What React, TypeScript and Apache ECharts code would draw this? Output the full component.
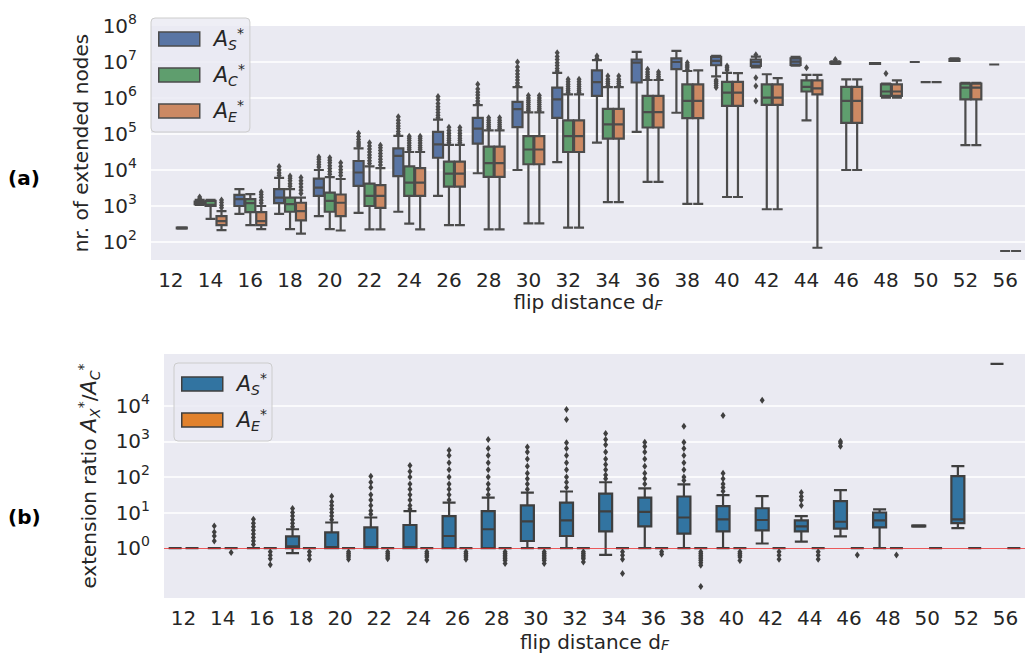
import React, { useEffect, useRef } from 'react';
import * as echarts from 'echarts';

// flip distance categories
const categories = ['12','14','16','18','20','22','24','26','28','30','32','34','36','38','40','42','44','46','48','50','52','56'];

// ---------- Panel (a): nr. of extended nodes, log10 of [lower whisker, Q1, median, Q3, upper whisker]
const aS_box = [
  null,[3.03,3.05,3.08,3.12,3.17],[2.78,3.0,3.19,3.31,3.47],[2.78,3.08,3.23,3.47,3.78],
  [2.72,3.28,3.51,3.76,4.0],[2.81,3.56,3.93,4.25,4.6],[2.84,3.83,4.39,4.6,4.95],[3.28,4.34,4.71,5.06,5.4],
  [3.91,4.73,5.15,5.45,5.8],[4.0,5.19,5.69,5.89,6.3],[4.22,5.45,5.96,6.29,6.7],[4.76,6.06,6.44,6.77,7.05],
  [5.06,6.43,6.98,7.07,7.28],[5.59,6.8,7.0,7.1,7.31],[6.6,6.91,7.03,7.14,7.17],[6.85,6.89,7.0,7.07,7.15],
  [6.9,6.92,7.01,7.1,7.14],[6.95,6.96,6.98,7.0,7.02],[6.95,6.95,6.96,6.97,6.97],[7.0,7.0,7.0,7.0,7.0],
  [7.03,7.03,7.05,7.08,7.1],[6.93,6.93,6.93,6.93,6.93]
];
const aC_box = [
  null,[2.64,3.0,3.03,3.14,3.17],[2.47,2.83,3.08,3.19,3.33],[2.36,2.84,3.05,3.23,3.47],
  [2.36,2.84,3.14,3.37,3.8],[2.35,3.0,3.28,3.62,4.1],[2.51,3.28,3.65,4.1,4.5],[2.47,3.54,3.9,4.23,4.7],
  [2.35,3.81,4.19,4.65,5.1],[2.52,4.16,4.57,4.94,5.6],[2.4,4.5,4.94,5.38,6.1],[3.11,4.87,5.27,5.7,6.3],
  [3.67,5.18,5.61,6.06,6.5],[3.06,5.44,5.92,6.38,6.75],[3.25,5.78,6.15,6.45,6.7],[2.91,5.81,6.01,6.38,6.66],
  [5.38,6.18,6.31,6.49,6.64],[4.0,5.31,5.92,6.31,6.52],[6.01,6.06,6.18,6.38,6.4],[6.44,6.44,6.44,6.44,6.44],
  [4.69,5.96,6.29,6.4,6.42],[1.75,1.75,1.75,1.75,1.75]
];
const aE_box = [
  [2.37,2.38,2.39,2.4,2.41],[2.33,2.47,2.58,2.72,2.86],[2.36,2.47,2.58,2.83,3.0],[2.23,2.6,2.86,3.09,3.23],
  [2.32,2.72,3.09,3.32,3.75],[2.35,2.95,3.28,3.58,4.05],[2.35,3.28,3.65,4.05,4.5],[2.47,3.54,3.9,4.23,4.7],
  [2.35,3.81,4.19,4.65,5.1],[2.52,4.16,4.57,4.94,5.6],[2.4,4.5,4.94,5.38,6.1],[3.11,4.87,5.27,5.7,6.3],
  [3.67,5.18,5.61,6.06,6.5],[3.06,5.44,5.92,6.38,6.77],[3.25,5.78,6.15,6.45,6.69],[2.91,5.81,6.01,6.38,6.55],
  [1.84,6.1,6.27,6.49,6.64],[4.0,5.31,5.92,6.31,6.52],[6.01,6.06,6.18,6.38,6.49],[6.44,6.44,6.44,6.44,6.44],
  [4.69,5.96,6.29,6.4,6.42],[1.75,1.75,1.75,1.75,1.75]
];
// outliers (log10)
const aS_out = [
  [],[3.2,3.25],[],[3.85,3.92,4.0,4.1],[4.08,4.15,4.22,4.3,4.36],[4.67,4.72,4.78,4.85,4.93,5.02],
  [5.0,5.07,5.15,5.22,5.3,5.38,5.48],[5.45,5.52,5.6,5.68,5.76,5.85,5.95,6.04],[5.85,5.92,6.0,6.08,6.16,6.25,6.38],
  [6.35,6.42,6.5,6.58,6.67,6.76,6.86,7.0],[6.75,6.82,6.9,6.98,7.07,7.15,7.26],[7.1,7.17],[],[],
  [6.5,6.45,6.4,6.35,6.29],[7.2,6.56,6.33,5.92],[],[7.07],[],[],[],[]
];
const aC_out = [
  [],[],[],[3.55,3.62,3.7,3.77,3.83],[3.88,3.96,4.04,4.12,4.2,4.27,4.34],[4.18,4.26,4.34,4.42,4.5,4.58,4.67,4.76],
  [4.56,4.62,4.68,4.75,4.82,4.88,4.94],[4.76,4.82,4.88,4.95,5.02,5.1,5.19],[5.15,5.2,5.26,5.32,5.38,5.45],
  [5.65,5.7,5.76,5.82,5.88,5.94,6.0,6.07],[6.15,6.2,6.26,6.32,6.38,6.45,6.52],[6.35,6.4,6.46,6.52,6.61],
  [6.55,6.6,6.66,6.72,6.8],[6.8,6.86,6.92,6.98],[6.78,6.84,6.89],[],[6.84],[],[6.68],[],[],[]
];
const aE_out = [
  [],[2.95,3.02,3.1,3.17],[3.08,3.16,3.24,3.32,3.39],[3.35,3.44,3.53,3.62,3.7,3.79],[3.85,3.93,4.01,4.1,4.2],
  [4.14,4.22,4.3,4.38,4.46,4.54,4.62,4.69],[4.56,4.62,4.68,4.75,4.82,4.88,4.94],[4.76,4.82,4.88,4.95,5.02,5.1,5.18],
  [5.15,5.2,5.26,5.32,5.38,5.45],[5.65,5.7,5.76,5.82,5.88,5.94,6.0,6.07],[6.15,6.2,6.26,6.32,6.38,6.45,6.52],
  [6.35,6.4,6.46,6.52,6.61],[6.55,6.6,6.66,6.72],[],[],[],[],[],[],[],[],[]
];

// ---------- Panel (b): extension ratio, log10 of [lower whisker, Q1, median, Q3, upper whisker]
const bS_box = [
  [0,0,0,0,0],[0,0,0,0,0],[0,0,0,0,0],[-0.14,0,0.05,0.33,0.53],[0,0,0.03,0.44,0.72],[0,0,0.03,0.58,0.86],
  [0,0,0.03,0.65,1.04],[0,0,0.34,0.9,1.28],[0,0,0.53,1.04,1.42],[0,0.2,0.75,1.2,1.56],[0,0.34,0.78,1.28,1.59],
  [-0.19,0.47,1.03,1.53,1.85],[0,0.61,1.02,1.42,1.68],[0,0.41,0.86,1.45,1.79],[0,0.47,0.81,1.18,1.49],
  [0.13,0.5,0.79,1.12,1.46],[0.18,0.47,0.61,0.78,0.9],[0.33,0.55,0.74,1.32,1.63],[0,0.58,0.78,1.0,1.09],
  [0.6,0.61,0.62,0.63,0.64],[0.56,0.7,0.81,2.02,2.3],[5.17,5.17,5.17,5.17,5.17]
];
const bE_box = categories.map(() => [0,0,0,0,0]);
const bS_out = [
  [],[0.2,0.34,0.45,0.62],[0.1,0.2,0.3,0.4,0.5,0.6,0.7,0.81],[0.6,0.7,0.8,0.9,1.0,1.11],
  [0.8,0.9,1.0,1.1,1.2,1.3,1.46],[0.95,1.05,1.2,1.35,1.5,1.7,1.85,2.02],[1.1,1.2,1.35,1.5,1.65,1.8,2.0,2.15,2.32],
  [1.35,1.5,1.65,1.8,2.0,2.2,2.4,2.6,2.75],[1.5,1.65,1.8,2.0,2.2,2.4,2.6,2.8,3.05],[1.65,1.8,1.95,2.1,2.3,2.5,2.7,2.84],
  [1.7,1.85,2.0,2.2,2.4,2.6,2.8,2.96,3.61,3.89],[1.95,2.05,2.2,2.35,2.5,2.7,2.9,3.05,3.22],
  [1.8,1.95,2.1,2.3,2.5,2.7,2.85,2.97],[1.9,2.0,2.2,2.4,2.6,2.8,2.97,3.42],[1.6,1.7,1.8,1.95,2.1,3.72],
  [4.15],[1.2,1.35,1.45,1.56],[2.86,2.95,3.0],[],[],[],[]
];
const bE_out = [
  [],[-0.12],[-0.1,-0.2,-0.3,-0.47],[-0.1,-0.2,-0.31],[-0.1,-0.15,-0.2,-0.25,-0.31],[-0.1,-0.15,-0.2,-0.25,-0.3],
  [-0.1,-0.15,-0.2,-0.25,-0.33],[-0.1,-0.15,-0.2,-0.25,-0.31],[-0.1,-0.15,-0.2,-0.25,-0.3,-0.35,-0.43],
  [-0.1,-0.15,-0.2,-0.25,-0.3,-0.35,-0.43],[-0.1,-0.15,-0.2,-0.25,-0.3,-0.39],[-0.1,-0.2,-0.31,-0.71],
  [-0.1,-0.17],[-0.1,-0.15,-0.2,-0.25,-0.3,-0.35,-0.41,-0.48,-1.08],[-0.1,-0.15,-0.2,-0.25,-0.35],
  [-0.1,-0.2,-0.31],[-0.1,-0.2,-0.31],[-0.19],[-0.19],[],[],[]
];

// gridline exponents
const aGridExp = [2,3,4,5,6,7];
const bGridExp = [1,2,3,4];

const FONT = 'DejaVu Sans';
const TXT = '#262626';
const BG = '#EAEAF2';
const COLORS: Record<string, string> = { aS: '#5975A4', aC: '#5F9E6E', aE: '#CC8963', bS: '#3274A1', bE: '#E1812C' };

const pow10 = (e: number) => Math.pow(10, e);
const boxData = (rows: (number[] | null)[]) => rows.map(r => (r ? r.map(pow10) : ['-', '-', '-', '-', '-']));
const outData = (rows: number[][], offset: number) => {
  const pts: number[][] = [];
  rows.forEach((list, i) => list.forEach(e => pts.push([i + offset, pow10(e)])));
  return pts;
};
// same side-by-side offsets as echarts' boxplot layout (in category units)
const boxOffsets = (n: number, bandWidth: number) => {
  const avail = bandWidth * 0.8 - 2;
  const gap = (avail / n) * 0.3;
  const w = (avail - gap * (n - 1)) / n;
  const res: number[] = [];
  let base = w / 2 - avail / 2;
  for (let i = 0; i < n; i++) { res.push(base / bandWidth); base += gap + w; }
  return res;
};

const gA = { left: 151, top: 26, width: 880, height: 234 };
const gB = { left: 164, top: 354, width: 869, height: 244 };

const math = {
  i: { fontSize: 21, fontStyle: 'italic', fontFamily: FONT, color: TXT, lineHeight: 26 },
  li: { fontSize: 21, fontStyle: 'italic', fontFamily: FONT, color: TXT, lineHeight: 26, padding: [0, 0, 0, 9] },
  sup: { fontSize: 14, verticalAlign: 'top', fontFamily: FONT, color: TXT, lineHeight: 12 },
  sub: { fontSize: 14, fontStyle: 'italic', verticalAlign: 'bottom', fontFamily: FONT, color: TXT, lineHeight: 14 },
};
const legendNames: Record<string, string> = {
  aS: '{li|A}{sub|S}{sup|*}', aC: '{li|A}{sub|C}{sup|*}', aE: '{li|A}{sub|E}{sup|*}',
  bS: '{li|A}{sub|S}{sup|*}', bE: '{li|A}{sub|E}{sup|*}',
};

const powLabel = (maxE: number, minE: number) => (v: number) => {
  const e = Math.log10(v);
  const r = Math.round(e);
  if (Math.abs(e - r) > 0.01 || r < minE || r > maxE) return '';
  return '10{sup|' + r + '}';
};

export default function App() {
  const ref = useRef<HTMLDivElement>(null);
  useEffect(() => {
    if (!ref.current) return;
    const chart = echarts.init(ref.current, undefined, { renderer: 'svg' });
    const offA = boxOffsets(3, gA.width / categories.length);
    const offB = boxOffsets(2, gB.width / categories.length);
    const lineA = '#4C4C4C';
    const lineB = '#3F3F3F';

    const box = (name: string, rows: (number[] | null)[], edge: string, xi: number, yi: number, w: number) => ({
      type: 'boxplot', name, data: boxData(rows), xAxisIndex: xi, yAxisIndex: yi, boxWidth: [w, w], z: 3,
      itemStyle: { color: COLORS[name], borderColor: edge, borderWidth: 2.2 },
      emphasis: { disabled: true }, silent: true,
    });
    const outl = (rows: number[][], off: number, edge: string, xi: number, yi: number) => ({
      type: 'scatter', data: outData(rows, off), xAxisIndex: xi, yAxisIndex: yi, z: 4, silent: true,
      symbol: 'diamond', symbolSize: [5, 7], itemStyle: { color: edge, opacity: 1 },
    });
    const gridLines = (exps: number[], xi: number, yi: number) => ({
      type: 'line', data: [], xAxisIndex: xi, yAxisIndex: yi, z: 1, silent: true,
      markLine: {
        silent: true, z: 1, symbol: ['none', 'none'], label: { show: false }, emphasis: { disabled: true },
        lineStyle: { color: '#ffffff', width: 1.5, type: 'solid', opacity: 1 },
        data: exps.map(e => ({ yAxis: pow10(e) })),
      },
    });

    const yLabel = (maxE: number, minE: number) => ({
      fontSize: 20, fontFamily: FONT, color: TXT, margin: 14, lineHeight: 28,
      formatter: powLabel(maxE, minE),
      rich: { sup: { fontSize: 14, verticalAlign: 'top', lineHeight: 16, fontFamily: FONT, color: TXT } },
    });
    const xName = {
      fontSize: 20, fontFamily: FONT, color: TXT,
      rich: { sub: { fontSize: 14, fontStyle: 'italic', verticalAlign: 'bottom', lineHeight: 14, fontFamily: FONT, color: TXT } },
    };
    const catAxis = (gi: number, gap: number) => ({
      type: 'category', gridIndex: gi, data: categories, boundaryGap: true,
      axisLine: { show: false }, axisTick: { show: false }, splitLine: { show: false },
      axisLabel: { interval: 0, fontSize: 20, fontFamily: FONT, color: TXT, margin: 10 },
      name: 'flip distance d{sub|F}', nameLocation: 'middle', nameGap: gap, nameTextStyle: xName,
    });
    const valAxis = (gi: number) => ({ type: 'value', gridIndex: gi, min: -0.5, max: categories.length - 0.5, show: false });

    const legendItems = (names: string[], edge: string) =>
      names.map(n => ({ name: n, itemStyle: { color: COLORS[n], borderColor: edge, borderWidth: 1.5 } }));
    const legendBase = {
      orient: 'vertical', icon: 'rect', itemWidth: 41, itemHeight: 14, itemGap: 10,
      backgroundColor: 'rgba(234,234,242,0.8)', borderColor: '#cccccc', borderWidth: 1, borderRadius: 4,
      selectedMode: false,
      formatter: (n: string) => legendNames[n],
      textStyle: { fontSize: 20, fontFamily: FONT, color: TXT, rich: math },
    };

    chart.setOption({
      animation: false,
      backgroundColor: '#ffffff',
      grid: [
        { ...gA, show: true, backgroundColor: BG, borderWidth: 0, containLabel: false },
        { ...gB, show: true, backgroundColor: BG, borderWidth: 0, containLabel: false },
      ],
      xAxis: [catAxis(0, 32), valAxis(0), catAxis(1, 34), valAxis(1)],
      yAxis: [
        {
          type: 'log', gridIndex: 0, logBase: 10, min: pow10(1.5), max: pow10(8),
          axisLine: { show: false }, axisTick: { show: false }, splitLine: { show: false },
          axisLabel: yLabel(8, 2),
          name: 'nr. of extended nodes', nameLocation: 'middle', nameGap: 60,
          nameTextStyle: { fontSize: 20, fontFamily: FONT, color: TXT },
        },
        {
          type: 'log', gridIndex: 1, logBase: 10, min: pow10(-1.4), max: pow10(5.45),
          axisLine: { show: false }, axisTick: { show: false }, splitLine: { show: false },
          axisLabel: yLabel(4, 0),
          name: 'extension ratio {i|A}{sub|X}{sup|*}/{i|A}{sub|C}{sup|*}', nameLocation: 'middle', nameGap: 62,
          nameTextStyle: { fontSize: 20, fontFamily: FONT, color: TXT, rich: math },
        },
      ],
      legend: [
        { ...legendBase, left: gA.left, top: 18, padding: [8, 5, 8, 7], data: legendItems(['aS', 'aC', 'aE'], lineA) },
        { ...legendBase, left: 174, top: 363, padding: [8, 5, 8, 7], data: legendItems(['bS', 'bE'], lineB) },
      ],
      graphic: [
        { type: 'text', left: 8, top: 168, style: { text: '(a)', fontSize: 20, fontWeight: 'bold', fontFamily: FONT, fill: '#000' } },
        { type: 'text', left: 8, top: 507, style: { text: '(b)', fontSize: 20, fontWeight: 'bold', fontFamily: FONT, fill: '#000' } },
      ],
      series: [
        gridLines(aGridExp, 0, 0),
        gridLines(bGridExp, 2, 1),
        box('aS', aS_box, lineA, 0, 0, 10),
        box('aC', aC_box, lineA, 0, 0, 10),
        box('aE', aE_box, lineA, 0, 0, 10),
        outl(aS_out, offA[0], lineA, 1, 0),
        outl(aC_out, offA[1], lineA, 1, 0),
        outl(aE_out, offA[2], lineA, 1, 0),
        box('bS', bS_box, lineB, 2, 1, 13),
        box('bE', bE_box, lineB, 2, 1, 13),
        outl(bS_out, offB[0], lineB, 3, 1),
        outl(bE_out, offB[1], lineB, 3, 1),
        {
          type: 'line', data: [], xAxisIndex: 2, yAxisIndex: 1, z: 6, silent: true,
          markLine: {
            silent: true, z: 6, symbol: ['none', 'none'], label: { show: false }, emphasis: { disabled: true },
            lineStyle: { color: 'rgba(235,40,40,0.75)', width: 1.2, type: 'solid' },
            data: [{ yAxis: 1 }],
          },
        },
      ],
    });
    return () => chart.dispose();
  }, []);
  return <div ref={ref} style={{ position: 'fixed', left: 0, top: 0, width: 1025, height: 659 }} />;
}
